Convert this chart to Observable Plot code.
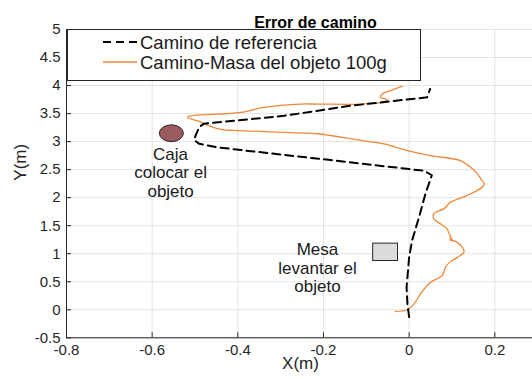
<!DOCTYPE html>
<html><head><meta charset="utf-8">
<script src="https://cdn.jsdelivr.net/npm/d3@7"></script>
<script src="https://cdn.jsdelivr.net/npm/@observablehq/plot@0.6"></script>
<style>
body{margin:0;background:#fff;}
#wrap{position:relative;width:532px;height:379px;font-family:"Liberation Sans",Arial,sans-serif;}
#legend{position:absolute;left:67px;top:29px;width:354px;height:52px;border:1px solid #262626;background:#fff;box-sizing:border-box}
#legend svg{display:block}
</style></head><body><div id="wrap"></div>
<script>
const title = "Error de camino";
const xLabel = "X(m)";
const yLabel = "Y(m)";
const xTicks = [-0.8, -0.6, -0.4, -0.2, 0, 0.2];
const yTicks = [-0.5, 0, 0.5, 1, 1.5, 2, 2.5, 3, 3.5, 4, 4.5, 5];
const seriesNames = ["Camino de referencia", "Camino-Masa del objeto 100g"];

// reference path (dashed)
const refX = [0.0, -0.004, -0.006, 0.0, 0.007, 0.023, 0.038, 0.053, 0.035, -0.183, -0.37, -0.45, -0.49, -0.502, -0.498, -0.49, -0.479, -0.292, -0.137, 0.042, 0.049];
const refY = [-0.13, 0.1, 0.4, 0.94, 1.24, 1.65, 2.07, 2.40, 2.48, 2.67, 2.83, 2.9, 2.96, 3.03, 3.12, 3.26, 3.32, 3.46, 3.64, 3.79, 3.94];

// robot path with 100 g mass
const robX = [-0.032, -0.004, 0.011, 0.027, 0.05, 0.077, 0.085, 0.095, 0.112, 0.128, 0.124, 0.108, 0.095, 0.101, 0.095, 0.097, 0.093, 0.089, 0.074, 0.058, 0.058, 0.081, 0.097, 0.136, 0.171, 0.175, 0.167, 0.159, 0.144, 0.12, 0.05, -0.004, -0.059, -0.121, -0.214, -0.277, -0.409, -0.432, -0.448, -0.479, -0.49, -0.518, -0.51, -0.448, -0.393, -0.339, -0.253, -0.214, -0.113, -0.059, -0.051, -0.067, -0.063, -0.043, -0.016];
const robY = [-0.03, 0.0, 0.1, 0.29, 0.49, 0.61, 0.76, 0.85, 0.93, 1.03, 1.12, 1.22, 1.245, 1.265, 1.285, 1.31, 1.36, 1.44, 1.53, 1.62, 1.72, 1.8, 1.92, 2.04, 2.19, 2.25, 2.34, 2.43, 2.54, 2.66, 2.75, 2.84, 2.96, 3.03, 3.14, 3.16, 3.2, 3.21, 3.23, 3.32, 3.36, 3.43, 3.46, 3.49, 3.52, 3.61, 3.67, 3.67, 3.67, 3.71, 3.75, 3.79, 3.85, 3.91, 3.99];

// objects: box (ellipse) and table (rectangle)
const objX1 = [-0.582, -0.084];
const objX2 = [-0.526, -0.026];
const objY1 = [2.99, 0.87];
const objY2 = [3.29, 1.18];
const objKind = ["caja", "mesa"];

// annotations
const annX = [-0.557, -0.214];
const annY = [2.45, 0.75];
const annText = ["Caja\ncolocar el\nobjeto", "Mesa\nlevantar el\nobjeto"];

const ref = refX.map((x, i) => ({x, y: refY[i]}));
const rob = robX.map((x, i) => ({x, y: robY[i]}));
const objs = objKind.map((k, i) => ({k, x1: objX1[i], x2: objX2[i], y1: objY1[i], y2: objY2[i]}));
const anns = annText.map((t, i) => ({x: annX[i], y: annY[i], t}));

const ORANGE = "#F0883A";
const INK = "#262626";
const GRID = "#e3e3e3";

const plot = Plot.plot({
  width: 532, height: 379,
  marginLeft: 66, marginRight: 0, marginTop: 29, marginBottom: 41.7,
  style: {fontFamily: '"Liberation Sans", Arial, sans-serif', fontSize: "15px", color: INK, background: "white", overflow: "visible"},
  x: {domain: [-0.8, 0.288], label: null},
  y: {domain: [-0.5, 5], label: null},
  marks: [
    Plot.gridX(xTicks, {stroke: GRID, strokeOpacity: 1}),
    Plot.gridY(yTicks, {stroke: GRID, strokeOpacity: 1}),
    Plot.axisX(xTicks, {tickSize: -5, tickPadding: 11.5, tickFormat: d => String(d), label: null, stroke: INK, fill: INK, fontSize: 15}),
    Plot.axisY(yTicks, {tickSize: -5, tickPadding: 11, tickFormat: d => String(d), label: null, stroke: INK, fill: INK, fontSize: 15}),
    Plot.ruleX([xTicks[0]], {stroke: INK}),
    Plot.ruleY([yTicks[0]], {stroke: INK}),
    Plot.line(rob, {x: "x", y: "y", stroke: ORANGE, strokeWidth: 1.3, curve: "catmull-rom"}),
    Plot.line(ref, {x: "x", y: "y", stroke: "#000", strokeWidth: 2, strokeDasharray: "8,5"}),
    Plot.rect(objs.filter(d => d.k === "caja"), {x1: "x1", x2: "x2", y1: "y1", y2: "y2", fill: "#9A5B5E", stroke: INK, strokeWidth: 1, rx: 12, ry: 8.5}),
    Plot.rect(objs.filter(d => d.k === "mesa"), {x1: "x1", x2: "x2", y1: "y1", y2: "y2", fill: "#DCDCDC", stroke: INK, strokeWidth: 1}),
    Plot.text(anns, {x: "x", y: "y", text: "t", fontSize: 17, lineHeight: 1.08, fill: "#1a1a1a"}),
    Plot.text([title], {frameAnchor: "top", dy: -13, dx: 16, fontWeight: "bold", fontSize: 16, fill: "#000"}),
    Plot.text([xLabel], {frameAnchor: "bottom", dy: 31.5, dx: 1, fontSize: 17, fill: INK}),
    Plot.text([yLabel], {frameAnchor: "left", dx: -46, dy: -3, rotate: -90, fontSize: 17, fill: INK})
  ]
});

const wrap = document.getElementById("wrap");
wrap.appendChild(plot);

// legend overlay
const lg = document.createElement("div");
lg.id = "legend";
const ns = "http://www.w3.org/2000/svg";
const ls = document.createElementNS(ns, "svg");
ls.setAttribute("width", 352); ls.setAttribute("height", 50);
const rows = [{name: seriesNames[0], stroke: "#000", w: 2, dash: "8,5"}, {name: seriesNames[1], stroke: ORANGE, w: 1.3, dash: null}];
rows.forEach((r, i) => {
  const cy = 12 + i * 20;
  const ln = document.createElementNS(ns, "line");
  ln.setAttribute("x1", 35); ln.setAttribute("x2", 69);
  ln.setAttribute("y1", cy); ln.setAttribute("y2", cy);
  ln.setAttribute("stroke", r.stroke); ln.setAttribute("stroke-width", r.w);
  if (r.dash) ln.setAttribute("stroke-dasharray", r.dash);
  ls.appendChild(ln);
  const tx = document.createElementNS(ns, "text");
  tx.setAttribute("x", 72); tx.setAttribute("y", cy);
  tx.setAttribute("dominant-baseline", "central");
  tx.setAttribute("font-size", "18.5px");
  tx.setAttribute("font-family", '"Liberation Sans", Arial, sans-serif');
  tx.setAttribute("fill", "#1a1a1a");
  tx.textContent = r.name;
  ls.appendChild(tx);
});
lg.appendChild(ls);
wrap.appendChild(lg);
</script></body></html>
